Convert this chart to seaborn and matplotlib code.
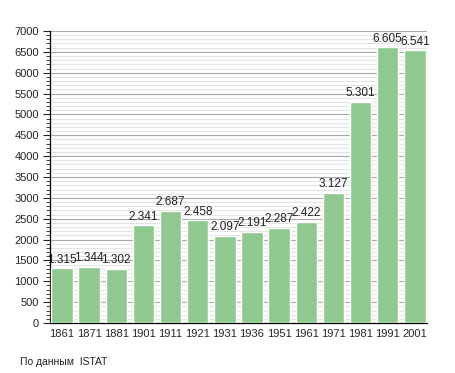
import matplotlib
matplotlib.use("Agg")
import matplotlib.pyplot as plt
from matplotlib.ticker import MultipleLocator
import pandas as pd
import seaborn as sns

years = ["1861", "1871", "1881", "1901", "1911", "1921", "1931",
         "1936", "1951", "1961", "1971", "1981", "1991", "2001"]
population = [1315, 1344, 1302, 2341, 2687, 2458, 2097,
              2191, 2287, 2422, 3127, 5301, 6605, 6541]
source_note = "По данным  ISTAT"

df = pd.DataFrame({"year": years, "pop": population})

sns.set_style("white")
plt.rcParams["font.family"] = ["Liberation Sans", "DejaVu Sans"]

fig = plt.figure(figsize=(4.55, 3.73), dpi=100)
ax = fig.add_axes([0.11, 0.134, 0.828, 0.783])

sns.barplot(data=df, x="year", y="pop", color="#8fc98f", saturation=1,
            width=0.79, ax=ax, zorder=3)

# value labels, thousands with a dot
for i, v in enumerate(population):
    ax.text(i, v + 60, f"{v:,}".replace(",", "."), ha="center", va="bottom",
            fontsize=8.5, color="#222222", zorder=4)

ax.set_ylim(0, 7000)
ax.set_xlim(-0.44, len(years) - 0.56)
ax.yaxis.set_major_locator(MultipleLocator(500))
ax.yaxis.set_minor_locator(MultipleLocator(100))
ax.grid(which="major", axis="y", color="#a8a8a8", linewidth=0.8, zorder=0)
ax.grid(which="minor", axis="y", color="#e4e4e4", linewidth=0.8, zorder=0)
ax.set_axisbelow(True)

for s in ["top", "right"]:
    ax.spines[s].set_visible(False)
ax.spines["left"].set_color("black")
ax.spines["bottom"].set_color("black")
ax.spines["left"].set_linewidth(0.9)
ax.spines["bottom"].set_linewidth(0.9)

ax.tick_params(axis="y", which="major", left=True, length=5, width=0.8,
               labelsize=8, pad=3)
ax.tick_params(axis="y", which="minor", left=True, length=3, width=0.6)
ax.tick_params(axis="x", bottom=False, labelsize=8, pad=1)
ax.set_xlabel("")
ax.set_ylabel("")

fig.text(20 / 455, 1 - 362 / 373, source_note, fontsize=7.5, va="center",
         ha="left", color="#222222")

fig.savefig("out.png", dpi=100)
